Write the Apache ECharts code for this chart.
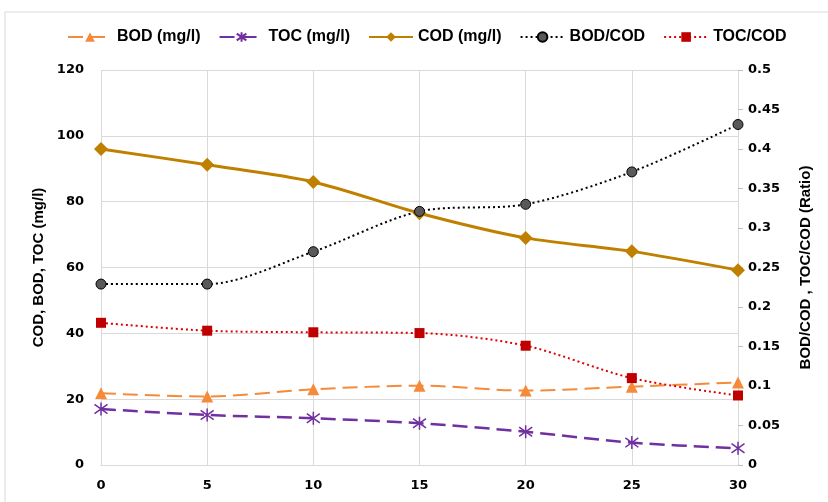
<!DOCTYPE html>
<html><head><meta charset="utf-8">
<script src="https://cdn.jsdelivr.net/npm/echarts@6/dist/echarts.min.js"></script>
<style>html,body{margin:0;padding:0;background:#fff}#c{width:828px;height:502px}</style>
</head><body><div id="c"></div>
<script>
var time = [0, 5, 10, 15, 20, 25, 30];
var bod = [21.8, 20.8, 23.0, 24.1, 22.6, 23.8, 25.1];
var toc = [17.0, 15.2, 14.2, 12.7, 10.1, 6.8, 5.1];
var cod = [96.0, 91.2, 86.0, 76.5, 69.0, 64.9, 59.2];
var bodCod = [0.229, 0.229, 0.270, 0.321, 0.330, 0.371, 0.431];
var tocCod = [0.180, 0.170, 0.168, 0.167, 0.151, 0.110, 0.088];

function pairs(v){ return time.map(function(t,i){ return [t, v[i]]; }); }
var chart = echarts.init(document.getElementById('c'));
var lblFont = 'DejaVu Sans';
var ttlFont = 'Liberation Sans Narrow, Arial Narrow, sans-serif';
chart.setOption({
  animation: false,
  graphic: [{type:'rect', shape:{x:5, y:12, width:830, height:500}, style:{fill:'none', stroke:'#d9d9d9', lineWidth:1}}],
  legend: {
    top: 24, left: 62, itemWidth: 44, itemHeight: 12, itemGap: 18,
    textStyle: {fontFamily: ttlFont, fontWeight: 'bold', fontSize: 16, color: '#000'},
    data: ['BOD (mg/l)', 'TOC (mg/l)', 'COD (mg/l)', 'BOD/COD', 'TOC/COD']
  },
  grid: {left: 101, right: 90, top: 70, bottom: 37},
  xAxis: {
    type: 'value', min: 0, max: 30, interval: 5,
    axisLine: {show: true, lineStyle: {color: '#d9d9d9'}},
    axisTick: {show: false},
    axisLabel: {fontFamily: lblFont, fontWeight: 'bold', fontSize: 13, color: '#000', margin: 14},
    splitLine: {show: true, lineStyle: {color: '#d9d9d9'}}
  },
  yAxis: [{
    type: 'value', min: 0, max: 120, interval: 20,
    name: 'COD, BOD, TOC (mg/l)', nameLocation: 'middle', nameGap: 52,
    nameTextStyle: {fontFamily: ttlFont, fontWeight: 'bold', fontSize: 15, color: '#000'},
    axisLine: {show: false}, axisTick: {show: false},
    axisLabel: {fontFamily: lblFont, fontWeight: 'bold', fontSize: 13, color: '#000', margin: 17},
    splitLine: {show: true, lineStyle: {color: '#d9d9d9'}}
  }, {
    type: 'value', min: 0, max: 0.5, interval: 0.05,
    name: 'BOD/COD , TOC/COD (Ratio)', nameLocation: 'middle', nameGap: 60, nameRotate: 90,
    nameTextStyle: {fontFamily: ttlFont, fontWeight: 'bold', fontSize: 15, color: '#000'},
    axisLine: {show: true, lineStyle: {color: '#d9d9d9'}},
    axisTick: {show: true, length: 5, lineStyle: {color: '#bfbfbf'}},
    axisLabel: {fontFamily: lblFont, fontWeight: 'bold', fontSize: 13, color: '#000', margin: 10},
    splitLine: {show: false}
  }],
  series: [
    {name: 'BOD (mg/l)', type: 'line', yAxisIndex: 0, data: pairs(bod), smooth: 0.3,
     symbol: 'triangle', symbolSize: 12,
     lineStyle: {color: '#F58A3A', width: 2, type: [15, 7]},
     itemStyle: {color: '#F58A3A'}},
    {name: 'TOC (mg/l)', type: 'line', yAxisIndex: 0, data: pairs(toc), smooth: 0.3,
     symbol: 'path://M-5,-5L5,5M-5,5L5,-5M0,-7L0,7', symbolSize: 13,
     lineStyle: {color: '#7030A0', width: 2.5, type: [15, 7]},
     itemStyle: {color: 'rgba(0,0,0,0)', borderColor: '#7030A0', borderWidth: 1.5}},
    {name: 'COD (mg/l)', type: 'line', yAxisIndex: 0, data: pairs(cod), smooth: 0.3,
     symbol: 'diamond', symbolSize: 14,
     lineStyle: {color: '#BF8000', width: 3},
     itemStyle: {color: '#BF8000'}},
    {name: 'BOD/COD', type: 'line', yAxisIndex: 1, data: pairs(bodCod), smooth: 0.3,
     symbol: 'circle', symbolSize: 10,
     lineStyle: {color: '#000', width: 2, type: [2, 3]},
     itemStyle: {color: '#595959', borderColor: '#000', borderWidth: 1}},
    {name: 'TOC/COD', type: 'line', yAxisIndex: 1, data: pairs(tocCod), smooth: 0.3,
     symbol: 'rect', symbolSize: 10,
     lineStyle: {color: '#E00000', width: 2, type: [2, 3]},
     itemStyle: {color: '#C00000'}}
  ]
});
</script></body></html>
